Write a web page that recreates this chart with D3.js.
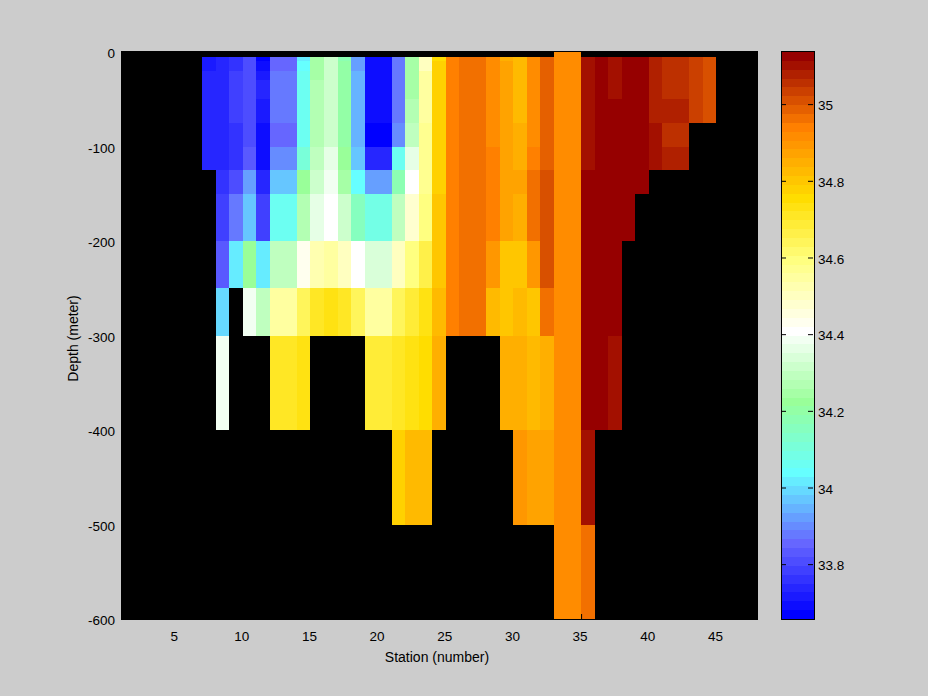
<!DOCTYPE html>
<html><head><meta charset="utf-8">
<script src="https://cdn.jsdelivr.net/npm/d3@7"></script>
<style>
html,body{margin:0;padding:0;background:#ccc;}
svg{display:block;}
text{font-family:"Liberation Sans",Arial,sans-serif;font-size:13.5px;fill:#000;}
text.lab{font-size:14px;}
</style></head><body>
<svg id="c" width="928" height="696"></svg>
<script>
const _ = null;
const depthEdges = [0,5,10,20,30,50,75,100,125,150,200,250,300,400,500,600];
const stations = [7,8,9,10,11,12,13,14,15,16,17,18,19,20,21,22,23,24,25,26,27,28,29,30,31,32,33,34,35,36,37,38,39,40,41,42,43,44];
const salinity = [
/* 7*/[_,33.715,33.715,33.738,33.738,33.738,33.738,33.738,_,_,_,_,_,_,_],
/* 8*/[_,33.738,33.738,33.738,33.738,33.738,33.738,33.738,33.761,33.785,33.831,33.993,34.385,_,_],
/* 9*/[_,33.761,33.761,33.785,33.785,33.785,33.761,33.761,33.808,33.877,34.016,_,_,_,_],
/*10*/[_,33.808,33.808,33.808,33.808,33.808,33.808,33.831,33.923,33.969,34.224,34.385,_,_,_],
/*11*/[_,33.669,33.692,33.715,33.738,33.715,33.692,33.692,33.738,33.785,34.016,34.293,_,_,_],
/*12*/[_,33.854,33.854,33.877,33.877,33.877,33.854,33.900,33.969,34.062,34.293,34.547,34.709,_,_],
/*13*/[_,33.854,33.854,33.877,33.877,33.877,33.854,33.900,33.969,34.062,34.293,34.547,34.709,_,_],
/*14*/[_,34.016,34.039,34.062,34.062,34.062,34.062,34.108,34.224,34.270,34.432,34.640,34.732,_,_],
/*15*/[_,34.247,34.247,34.247,34.270,34.270,34.270,34.293,34.316,34.362,34.524,34.709,_,_,_],
/*16*/[_,34.316,34.316,34.316,34.316,34.316,34.316,34.362,34.385,34.408,34.547,34.732,_,_,_],
/*17*/[_,34.177,34.201,34.201,34.201,34.201,34.201,34.224,34.247,34.316,34.501,34.709,_,_,_],
/*18*/[_,33.923,33.923,33.946,33.946,33.946,33.946,33.969,34.039,34.154,34.408,34.640,_,_,_],
/*19*/[_,33.692,33.692,33.692,33.692,33.692,33.669,33.738,33.923,34.085,34.339,34.547,34.686,_,_],
/*20*/[_,33.692,33.692,33.692,33.692,33.692,33.669,33.738,33.923,34.085,34.339,34.547,34.686,_,_],
/*21*/[_,33.877,33.877,33.877,33.877,33.877,33.900,34.062,34.177,34.293,34.501,34.640,34.709,34.778,_],
/*22*/[_,34.247,34.247,34.247,34.247,34.270,34.293,34.362,34.408,34.478,34.593,34.686,34.732,34.824,_],
/*23*/[_,34.501,34.501,34.547,34.547,34.547,34.570,34.570,34.570,34.593,34.663,34.732,34.755,34.824,_],
/*24*/[_,34.755,34.778,34.778,34.778,34.778,34.778,34.778,34.778,34.801,34.801,34.824,34.848,_,_],
/*25*/[_,34.940,34.940,34.940,34.940,34.940,34.940,34.940,34.940,34.940,34.940,34.940,_,_,_],
/*26*/[_,34.963,34.963,34.963,34.963,34.963,34.963,34.963,34.963,34.963,34.963,34.963,_,_,_],
/*27*/[_,34.963,34.963,34.963,34.963,34.963,34.963,34.963,34.963,34.963,34.963,34.963,_,_,_],
/*28*/[_,34.917,34.917,34.917,34.917,34.917,34.917,34.940,34.940,34.940,34.894,34.824,_,_,_],
/*29*/[_,34.848,34.871,34.871,34.871,34.871,34.871,34.871,34.871,34.871,34.801,34.801,34.848,_,_],
/*30*/[_,34.824,34.824,34.824,34.824,34.824,34.848,34.848,34.871,34.848,34.801,34.824,34.848,34.894,_],
/*31*/[_,34.917,34.917,34.917,34.917,34.917,34.917,34.940,34.963,34.963,34.894,34.801,34.824,34.871,_],
/*32*/[_,34.986,34.986,34.986,34.986,34.986,34.986,34.986,35.009,35.009,35.009,34.963,34.848,34.871,_],
/*33*/[34.917,34.917,34.917,34.917,34.917,34.917,34.917,34.917,34.917,34.917,34.917,34.917,34.917,34.917,34.917],
/*34*/[34.917,34.917,34.917,34.917,34.917,34.917,34.917,34.917,34.917,34.917,34.917,34.917,34.917,34.917,34.917],
/*35*/[_,35.102,35.102,35.102,35.102,35.102,35.102,35.102,35.125,35.125,35.125,35.125,35.125,35.102,34.963],
/*36*/[_,35.125,35.125,35.125,35.125,35.125,35.125,35.125,35.125,35.125,35.125,35.125,35.125,_,_],
/*37*/[_,35.102,35.102,35.102,35.102,35.125,35.125,35.125,35.125,35.125,35.125,35.125,35.102,_,_],
/*38*/[_,35.125,35.125,35.125,35.125,35.125,35.125,35.125,35.125,35.125,_,_,_,_,_],
/*39*/[_,35.125,35.125,35.125,35.125,35.125,35.125,35.125,35.125,_,_,_,_,_,_],
/*40*/[_,35.079,35.079,35.079,35.079,35.079,35.102,35.102,_,_,_,_,_,_,_],
/*41*/[_,35.056,35.056,35.056,35.056,35.079,35.056,35.079,_,_,_,_,_,_,_],
/*42*/[_,35.056,35.056,35.056,35.056,35.079,35.056,35.079,_,_,_,_,_,_,_],
/*43*/[_,35.032,35.032,35.032,35.032,35.032,_,_,_,_,_,_,_,_,_],
/*44*/[_,35.009,35.009,35.009,35.009,35.009,_,_,_,_,_,_,_,_,_]
];
const xTicks = [5,10,15,20,25,30,35,40,45];
const yTicks = [0,-100,-200,-300,-400,-500,-600];
const cTicks = [33.8,34,34.2,34.4,34.6,34.8,35];
const cDomain = [33.657,35.136];
const levelStops = [0,8,16,24,32,40,47,55,63];
const levelColors = ["#0000ff","#6666ff","#66ffff","#99ff99","#ffffff","#ffff80","#ffdd00","#ff8000","#960000"];
const nLevels = 64;

const ramp = d3.scaleLinear().domain(levelStops).range(levelColors).interpolate(d3.interpolateRgb);
const palette = d3.range(nLevels).map(i => ramp(i));
const color = d3.scaleQuantize().domain(cDomain).range(palette);

const x = d3.scaleLinear().domain([1,48]).range([121,757]);
const y = d3.scaleLinear().domain([0,600]).range([52,619]);
const yAxisScale = d3.scaleLinear().domain([0,-600]).range([52,619]);
const cy = d3.scaleLinear().domain(cDomain).range([619,52]);

const svg = d3.select("#c");
svg.append("rect").attr("width",928).attr("height",696).attr("fill","#cccccc");
svg.append("rect").attr("x",x(1)).attr("y",y(0)-1).attr("width",x(48)-x(1)+1).attr("height",y(600)-y(0)+2).attr("fill","#000");

const cells = [];
salinity.forEach((col,i)=>col.forEach((v,r)=>{ if(v!==null) cells.push({s:stations[i],r,v}); }));
const round = Math.round;
svg.append("g").selectAll("rect").data(cells).join("rect")
  .attr("x",d=>round(x(d.s)))
  .attr("width",d=>round(x(d.s+1))-round(x(d.s)))
  .attr("y",d=>round(y(depthEdges[d.r])))
  .attr("height",d=>round(y(depthEdges[d.r+1]))-round(y(depthEdges[d.r])))
  .attr("fill",d=>color(d.v))
  .attr("shape-rendering","crispEdges");

const gx = svg.append("g").attr("transform","translate(0,619)")
  .call(d3.axisBottom(x).tickValues(xTicks).tickSize(-5).tickPadding(12));
const gy = svg.append("g").attr("transform","translate(121,0)")
  .call(d3.axisLeft(yAxisScale).tickValues(yTicks).tickSize(-5).tickPadding(6).tickFormat(d=>String(d)));
gx.selectAll("text").attr("dx",-1.5);
gy.selectAll("text").attr("dy","0.42em");
[gx,gy].forEach(g=>{ g.selectAll("path,line").attr("stroke","#000");
  g.selectAll("text").attr("fill","#000");
  g.attr("font-family",null).attr("font-size",null);});

svg.append("text").attr("class","lab").attr("x",437).attr("y",662).attr("text-anchor","middle").text("Station (number)");
svg.append("text").attr("class","lab").attr("transform","translate(78,338.5) rotate(-90)").attr("text-anchor","middle").text("Depth (meter)");

const cbX0=782, cbX1=814, levelH=(cy.range()[0]-cy.range()[1])/nLevels;
svg.append("g").selectAll("rect").data(palette).join("rect")
  .attr("x",cbX0).attr("width",cbX1-cbX0)
  .attr("y",(d,i)=>round(cy.range()[0]-(i+1)*levelH))
  .attr("height",(d,i)=>round(cy.range()[0]-i*levelH)-round(cy.range()[0]-(i+1)*levelH))
  .attr("fill",d=>d).attr("shape-rendering","crispEdges");
svg.append("rect").attr("x",cbX0-0.5).attr("y",51.5).attr("width",cbX1-cbX0+1).attr("height",568)
  .attr("fill","none").attr("stroke","#000");
const fmt = d=>String(+d.toFixed(1));
const cr = svg.append("g").attr("transform",`translate(${cbX1-1},0)`)
  .call(d3.axisRight(cy).tickValues(cTicks).tickSize(-5).tickPadding(5).tickFormat(fmt));
const cl = svg.append("g").attr("transform",`translate(${cbX0-1},0)`)
  .call(d3.axisLeft(cy).tickValues(cTicks).tickSize(-5).tickFormat(""));
cr.selectAll("text").attr("dy","0.42em");
[cr,cl].forEach(g=>{ g.select(".domain").remove(); g.selectAll("line").attr("stroke","#000");
  g.selectAll("text").attr("fill","#000"); g.attr("font-family",null).attr("font-size",null);});
</script>
</body></html>
